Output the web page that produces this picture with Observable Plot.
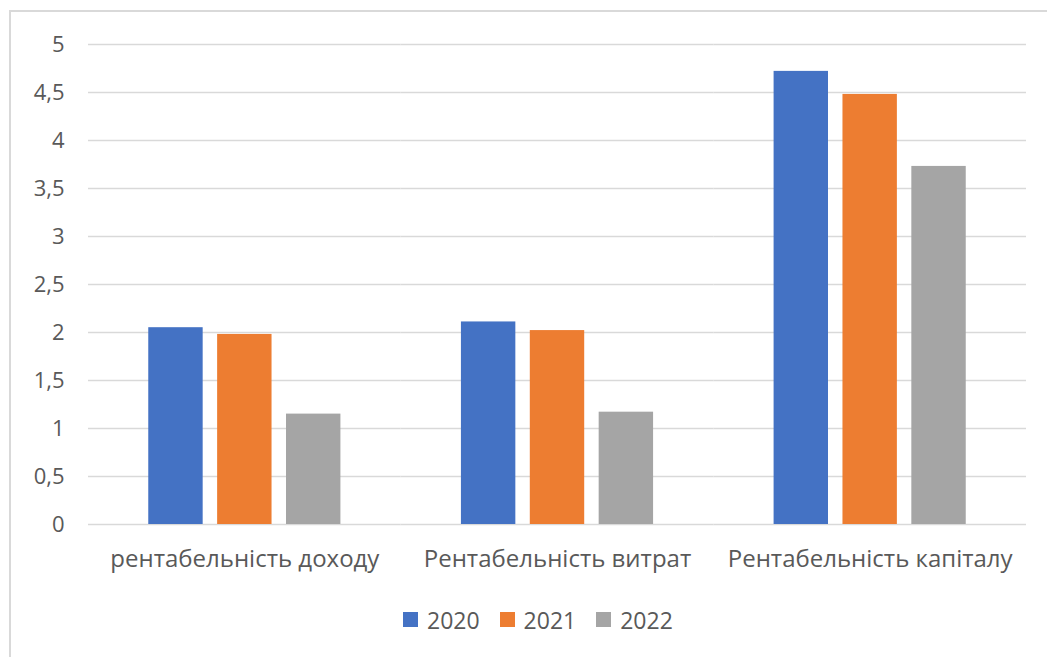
<!DOCTYPE html>
<html>
<head>
<meta charset="utf-8">
<script src="https://cdn.jsdelivr.net/npm/d3@7"></script>
<script src="https://cdn.jsdelivr.net/npm/@observablehq/plot@0.6"></script>
<style>
  html, body { margin: 0; padding: 0; background: #fff; }
  body { width: 1047px; height: 657px; position: relative; overflow: hidden; font-family: "Open Sans", sans-serif; }
  #frame { position: absolute; left: 9px; top: 10px; width: 1100px; height: 700px; border: 2px solid #d9d9d9; box-sizing: border-box; }
  #chart { position: absolute; left: 0; top: 0; }
  #legend { position: absolute; left: 403px; top: 603px; }
  .lg-swatches { font-family: "Open Sans", sans-serif; font-size: 23px; color: #595959; }
  .lg-swatch { margin-right: 20px !important; }
  .lg-swatch > svg { margin-right: 9px !important; }
</style>
</head>
<body>
<div id="frame"></div>
<div id="chart"></div>
<div id="legend"></div>
<script>
// Profitability indicators by year
const categories = ["рентабельність доходу", "Рентабельність витрат", "Рентабельність капіталу"];
const years = ["2020", "2021", "2022"];
const values2020 = [2.05, 2.11, 4.72];
const values2021 = [1.98, 2.02, 4.48];
const values2022 = [1.15, 1.17, 3.73];
const yTicks = [0, 0.5, 1, 1.5, 2, 2.5, 3, 3.5, 4, 4.5, 5];
const colors = ["#4472c4", "#ed7d31", "#a5a5a5"];

const series = [values2020, values2021, values2022];
const rows = [];
categories.forEach((c, i) => {
  years.forEach((y, j) => rows.push({category: c, year: y, value: series[j][i]}));
});

const comma = d => String(d).replace(".", ",");

const chart = Plot.plot({
  width: 1047,
  height: 600,
  marginLeft: 88,
  marginRight: 21,
  marginTop: 44,
  marginBottom: 76,
  style: {fontFamily: "'Open Sans', sans-serif", fontSize: "22px", color: "#595959", background: "transparent", overflow: "visible"},
  fx: {domain: categories, padding: 0, label: null, round: false},
  x: {domain: years, paddingInner: 0.21, paddingOuter: 0.875, axis: null, round: false},
  y: {domain: [0, 5], label: null},
  color: {domain: years, range: colors},
  marks: [
    Plot.ruleY(yTicks, {stroke: "#d9d9d9", strokeWidth: 1.3}),
    Plot.barY(rows, {fx: "category", x: "year", y: "value", fill: "year", inset: 0}),
    Plot.axisY(yTicks, {tickSize: 0, tickPadding: 24, tickFormat: comma, fontSize: 22, fill: "#595959"}),
    Plot.axisFx({anchor: "bottom", tickSize: 0, tickPadding: 25, fontSize: 24, fill: "#595959", label: null})
  ]
});
document.getElementById("chart").append(chart);

const legend = Plot.legend({
  color: {domain: years, range: colors},
  legend: "swatches",
  swatchSize: 15,
  className: "lg"
});
document.getElementById("legend").append(legend);
</script>
</body>
</html>
